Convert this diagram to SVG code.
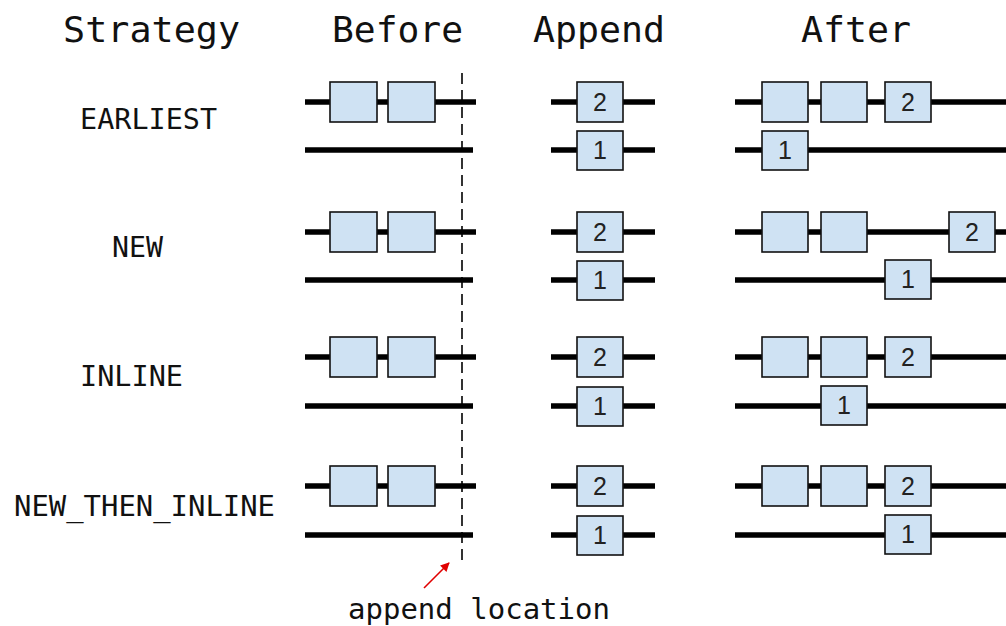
<svg xmlns="http://www.w3.org/2000/svg" width="1006" height="626" viewBox="0 0 1006 626">
<style>
.title{font-family:"DejaVu Sans Mono","Liberation Mono",monospace;font-size:36px;fill:#111}
.lbl{font-family:"DejaVu Sans Mono","Liberation Mono",monospace;font-size:28px;fill:#111}
.track{stroke:#000;stroke-width:5.5;fill:none}
.blk{fill:#cfe2f3;stroke:#111;stroke-width:1.6}
.num{font-family:"Liberation Sans",Arial,sans-serif;font-size:25px;fill:#222;text-anchor:middle}
</style>
<defs>
<marker id="ah" viewBox="0 0 10 10" refX="9" refY="5" markerWidth="10" markerHeight="9" orient="auto" markerUnits="userSpaceOnUse">
<path d="M0,0 L10,5 L0,10 z" fill="#e00000"/>
</marker>
</defs>
<rect width="1006" height="626" fill="#fff"/>
<g id="titles">
<text class="title" x="63" y="42" textLength="177" lengthAdjust="spacingAndGlyphs">Strategy</text>
<text class="title" x="332" y="42" textLength="131" lengthAdjust="spacingAndGlyphs">Before</text>
<text class="title" x="533" y="42" textLength="132" lengthAdjust="spacingAndGlyphs">Append</text>
<text class="title" x="801" y="42" textLength="110" lengthAdjust="spacingAndGlyphs">After</text>
</g>
<g id="labels">
<text class="lbl" x="80" y="129" textLength="137" lengthAdjust="spacingAndGlyphs">EARLIEST</text>
<text class="lbl" x="112" y="257" textLength="51" lengthAdjust="spacingAndGlyphs">NEW</text>
<text class="lbl" x="80" y="386" textLength="103" lengthAdjust="spacingAndGlyphs">INLINE</text>
<text class="lbl" x="14" y="516" textLength="261" lengthAdjust="spacingAndGlyphs">NEW_THEN_INLINE</text>
</g>
<g id="connectors">
<path class="track" d="M305,102H476M305,150H473M551,102H655M551,150H655M735,102H1006M735,150H1006"/>
<path class="track" d="M305,232H476M305,280H473M551,232H655M551,280H655M735,232H1006M735,280H1006"/>
<path class="track" d="M305,357H476M305,406H473M551,357H655M551,406H655M735,357H1006M735,406H1006"/>
<path class="track" d="M305,486H476M305,535H473M551,486H655M551,535H655M735,486H1006M735,535H1006"/>
<line x1="462" y1="73" x2="462" y2="566" stroke="#000" stroke-width="1.6" stroke-dasharray="11,6"/>
<line x1="424" y1="588" x2="449" y2="563" stroke="#e00000" stroke-width="1.6" marker-end="url(#ah)"/>
</g>
<g id="row-earliest">
<rect class="blk" x="330" y="82" width="47" height="40"/><rect class="blk" x="388" y="82" width="47" height="40"/>
<rect class="blk" x="577" y="82" width="46" height="40"/><text class="num" x="600" y="111">2</text>
<rect class="blk" x="577" y="131" width="46" height="39"/><text class="num" x="600" y="159">1</text>
<rect class="blk" x="762" y="82" width="46" height="40"/><rect class="blk" x="821" y="82" width="46" height="40"/>
<rect class="blk" x="885" y="82" width="46" height="40"/><text class="num" x="908" y="111">2</text>
<rect class="blk" x="762" y="131" width="46" height="39"/><text class="num" x="785" y="159">1</text>
</g>
<g id="row-new">
<rect class="blk" x="330" y="212" width="47" height="40"/><rect class="blk" x="388" y="212" width="47" height="40"/>
<rect class="blk" x="577" y="212" width="46" height="40"/><text class="num" x="600" y="241">2</text>
<rect class="blk" x="577" y="261" width="46" height="39"/><text class="num" x="600" y="289">1</text>
<rect class="blk" x="762" y="212" width="46" height="40"/><rect class="blk" x="821" y="212" width="46" height="40"/>
<rect class="blk" x="949" y="212" width="46" height="40"/><text class="num" x="972" y="241">2</text>
<rect class="blk" x="885" y="260" width="46" height="39"/><text class="num" x="908" y="288">1</text>
</g>
<g id="row-inline">
<rect class="blk" x="330" y="337" width="47" height="40"/><rect class="blk" x="388" y="337" width="47" height="40"/>
<rect class="blk" x="577" y="337" width="46" height="40"/><text class="num" x="600" y="366">2</text>
<rect class="blk" x="577" y="387" width="46" height="39"/><text class="num" x="600" y="415">1</text>
<rect class="blk" x="762" y="337" width="46" height="40"/><rect class="blk" x="821" y="337" width="46" height="40"/>
<rect class="blk" x="885" y="337" width="46" height="40"/><text class="num" x="908" y="366">2</text>
<rect class="blk" x="821" y="386" width="46" height="39"/><text class="num" x="844" y="414">1</text>
</g>
<g id="row-new-then-inline">
<rect class="blk" x="330" y="466" width="47" height="40"/><rect class="blk" x="388" y="466" width="47" height="40"/>
<rect class="blk" x="577" y="466" width="46" height="40"/><text class="num" x="600" y="495">2</text>
<rect class="blk" x="577" y="516" width="46" height="39"/><text class="num" x="600" y="544">1</text>
<rect class="blk" x="762" y="466" width="46" height="40"/><rect class="blk" x="821" y="466" width="46" height="40"/>
<rect class="blk" x="885" y="466" width="46" height="40"/><text class="num" x="908" y="495">2</text>
<rect class="blk" x="885" y="515" width="46" height="39"/><text class="num" x="908" y="543">1</text>
</g>
<g id="annotation">
<text class="lbl" x="348" y="619" textLength="262" lengthAdjust="spacingAndGlyphs">append location</text>
</g>
</svg>
